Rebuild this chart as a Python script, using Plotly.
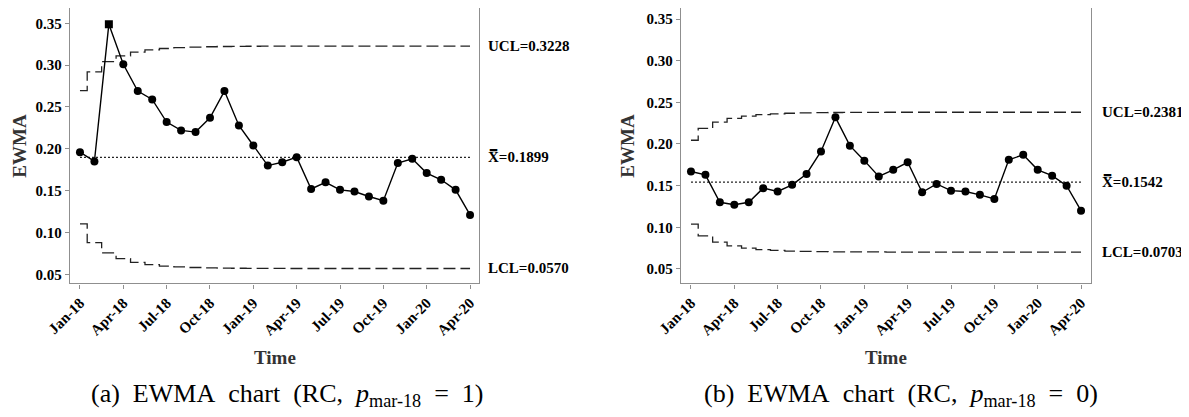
import plotly.graph_objects as go

months = ["Jan-18","Feb-18","Mar-18","Apr-18","May-18","Jun-18","Jul-18","Aug-18","Sep-18","Oct-18","Nov-18","Dec-18",
          "Jan-19","Feb-19","Mar-19","Apr-19","May-19","Jun-19","Jul-19","Aug-19","Sep-19","Oct-19","Nov-19","Dec-19",
          "Jan-20","Feb-20","Mar-20","Apr-20"]
tick_labels = ["Jan-18","Apr-18","Jul-18","Oct-18","Jan-19","Apr-19","Jul-19","Oct-19","Jan-20","Apr-20"]

ewma_a = [0.196,0.185,0.349,0.301,0.269,0.259,0.232,0.222,0.220,0.237,0.269,0.228,
          0.204,0.180,0.184,0.190,0.152,0.160,0.151,0.149,0.143,0.138,0.183,0.188,
          0.171,0.163,0.151,0.121]
ucl_a = [0.2696,0.2920,0.3041,0.3111,0.3155,0.3182,0.3199,0.3209,0.3216,0.3220,0.3223,0.3225,
         0.3226,0.3227,0.3227,0.3228,0.3228,0.3228,0.3228,0.3228,0.3228,0.3228,0.3228,0.3228,
         0.3228,0.3228,0.3228,0.3228]
lcl_a = [0.1102,0.0878,0.0757,0.0687,0.0643,0.0616,0.0599,0.0589,0.0582,0.0578,0.0575,0.0573,
         0.0572,0.0571,0.0571,0.0570,0.0570,0.0570,0.0570,0.0570,0.0570,0.0570,0.0570,0.0570,
         0.0570,0.0570,0.0570,0.0570]
center_a = 0.1899
ooc_a = ["Mar-18"]

ewma_b = [0.167,0.163,0.130,0.127,0.130,0.147,0.143,0.151,0.164,0.191,0.232,0.198,
          0.180,0.161,0.169,0.178,0.142,0.152,0.144,0.143,0.139,0.134,0.181,0.187,
          0.169,0.162,0.150,0.120]
ucl_b = [0.2045,0.2187,0.2263,0.2307,0.2335,0.2352,0.2362,0.2369,0.2373,0.2376,0.2378,0.2379,
         0.2380,0.2380,0.2381,0.2381,0.2381,0.2381,0.2381,0.2381,0.2381,0.2381,0.2381,0.2381,
         0.2381,0.2381,0.2381,0.2381]
lcl_b = [0.1039,0.0897,0.0821,0.0777,0.0749,0.0732,0.0722,0.0715,0.0711,0.0708,0.0706,0.0705,
         0.0704,0.0704,0.0703,0.0703,0.0703,0.0703,0.0703,0.0703,0.0703,0.0703,0.0703,0.0703,
         0.0703,0.0703,0.0703,0.0703]
center_b = 0.1542

captions = ["(a)&nbsp; EWMA&nbsp; chart&nbsp; (RC,&nbsp; <i>p</i><sub>mar-18</sub>&nbsp; =&nbsp; 1)",
            "(b)&nbsp; EWMA&nbsp; chart&nbsp; (RC,&nbsp; <i>p</i><sub>mar-18</sub>&nbsp; =&nbsp; 0)"]

# The page body has an 8px default margin; positions below are page pixels.
OFF = 8
W, H = 1189 - OFF, 417 - OFF
SERIF = "Liberation Serif, Times New Roman, serif"


def fx(px):
    return (px - OFF) / W


def fy(py):
    return (H - (py - OFF)) / H


fig = go.Figure()

panels = [
    dict(ax="", vals=ewma_a, ucl=ucl_a, lcl=lcl_a, cl=center_a, ooc=ooc_a,
         px=(70, 479), py=(8.0, 283.3), yr=(0.0393, 0.3683), xr=(-0.69, 27.62),
         lab_x=486, title_x=20, cap_x=287),
    dict(ax="2", vals=ewma_b, ucl=ucl_b, lcl=lcl_b, cl=center_b, ooc=[],
         px=(681, 1091), py=(8.0, 283.3), yr=(0.0328, 0.3632), xr=(-0.69, 27.69),
         lab_x=1100, title_x=628, cap_x=901),
]

dash_style = "12px,5px"
annotations = []
for i, p in enumerate(panels):
    xa, ya = "x" + p["ax"], "y" + p["ax"]
    for lim in (p["ucl"], p["lcl"]):
        fig.add_trace(go.Scatter(x=months, y=lim, mode="lines", xaxis=xa, yaxis=ya,
                                 line=dict(color="#222", width=1.3, dash=dash_style, shape="hvh"),
                                 showlegend=False, hoverinfo="skip"))
    fig.add_trace(go.Scatter(x=[months[0], months[-1]], y=[p["cl"], p["cl"]], mode="lines",
                             xaxis=xa, yaxis=ya,
                             line=dict(color="#222", width=1.3, dash="2px,2px"),
                             showlegend=False, hoverinfo="skip"))
    symbols = ["square" if m in p["ooc"] else "circle" for m in months]
    fig.add_trace(go.Scatter(x=months, y=p["vals"], mode="lines+markers", xaxis=xa, yaxis=ya,
                             line=dict(color="black", width=1.4),
                             marker=dict(color="black", size=8, symbol=symbols),
                             showlegend=False))
    xdom = [fx(p["px"][0]), fx(p["px"][1])]
    ydom = [fy(p["py"][1]), min(1.0, fy(p["py"][0]))]
    axis_common = dict(showline=True, mirror=True, linecolor="#8f8f8f", linewidth=1.4,
                       ticks="outside", ticklen=4, tickcolor="#8f8f8f", showgrid=False,
                       zeroline=False, automargin=False)
    fig.update_layout(**{
        "xaxis" + p["ax"]: dict(domain=xdom, anchor=ya, type="category", categoryorder="array",
                                 categoryarray=months, range=list(p["xr"]),
                                 tickvals=tick_labels, ticktext=tick_labels, tickangle=-45,
                                 tickfont=dict(family=SERIF, size=15, color="black", weight="bold"),
                                 **axis_common),
        "yaxis" + p["ax"]: dict(domain=ydom, anchor=xa, range=list(p["yr"]),
                                 tickvals=[0.05, 0.10, 0.15, 0.20, 0.25, 0.30, 0.35],
                                 tickformat=".2f",
                                 tickfont=dict(family=SERIF, size=15, color="black", weight="bold"),
                                 **axis_common),
    })
    lab_font = dict(family=SERIF, size=15, color="black", weight="bold")
    for txt, yv in [("UCL=%.4f" % p["ucl"][-1], p["ucl"][-1]),
                    ("X̿=%.4f" % p["cl"], p["cl"]),
                    ("LCL=%.4f" % p["lcl"][-1], p["lcl"][-1])]:
        annotations.append(dict(x=fx(p["lab_x"]), xref="paper", xanchor="left",
                                y=yv, yref=ya, yanchor="middle", text=txt,
                                showarrow=False, font=lab_font))
    annotations.append(dict(x=fx(p["title_x"]), y=fy((p["py"][0] + p["py"][1]) / 2),
                            xref="paper", yref="paper",
                            text="EWMA", textangle=-90, showarrow=False,
                            xanchor="center", yanchor="middle",
                            font=dict(family=SERIF, size=19, color="#333", weight="bold")))
    annotations.append(dict(x=fx((p["px"][0] + p["px"][1]) / 2), y=fy(357),
                            xref="paper", yref="paper", text="Time", showarrow=False,
                            xanchor="center", yanchor="middle",
                            font=dict(family=SERIF, size=19, color="#333", weight="bold")))
    annotations.append(dict(x=fx(p["cap_x"]), y=fy(395), xref="paper", yref="paper",
                            text=captions[i], showarrow=False, xanchor="center", yanchor="middle",
                            font=dict(family=SERIF, size=26, color="black")))

fig.update_layout(width=W, height=H, margin=dict(l=0, r=0, t=0, b=0),
                  paper_bgcolor="white", plot_bgcolor="white", annotations=annotations)
fig.write_html("out.html")
